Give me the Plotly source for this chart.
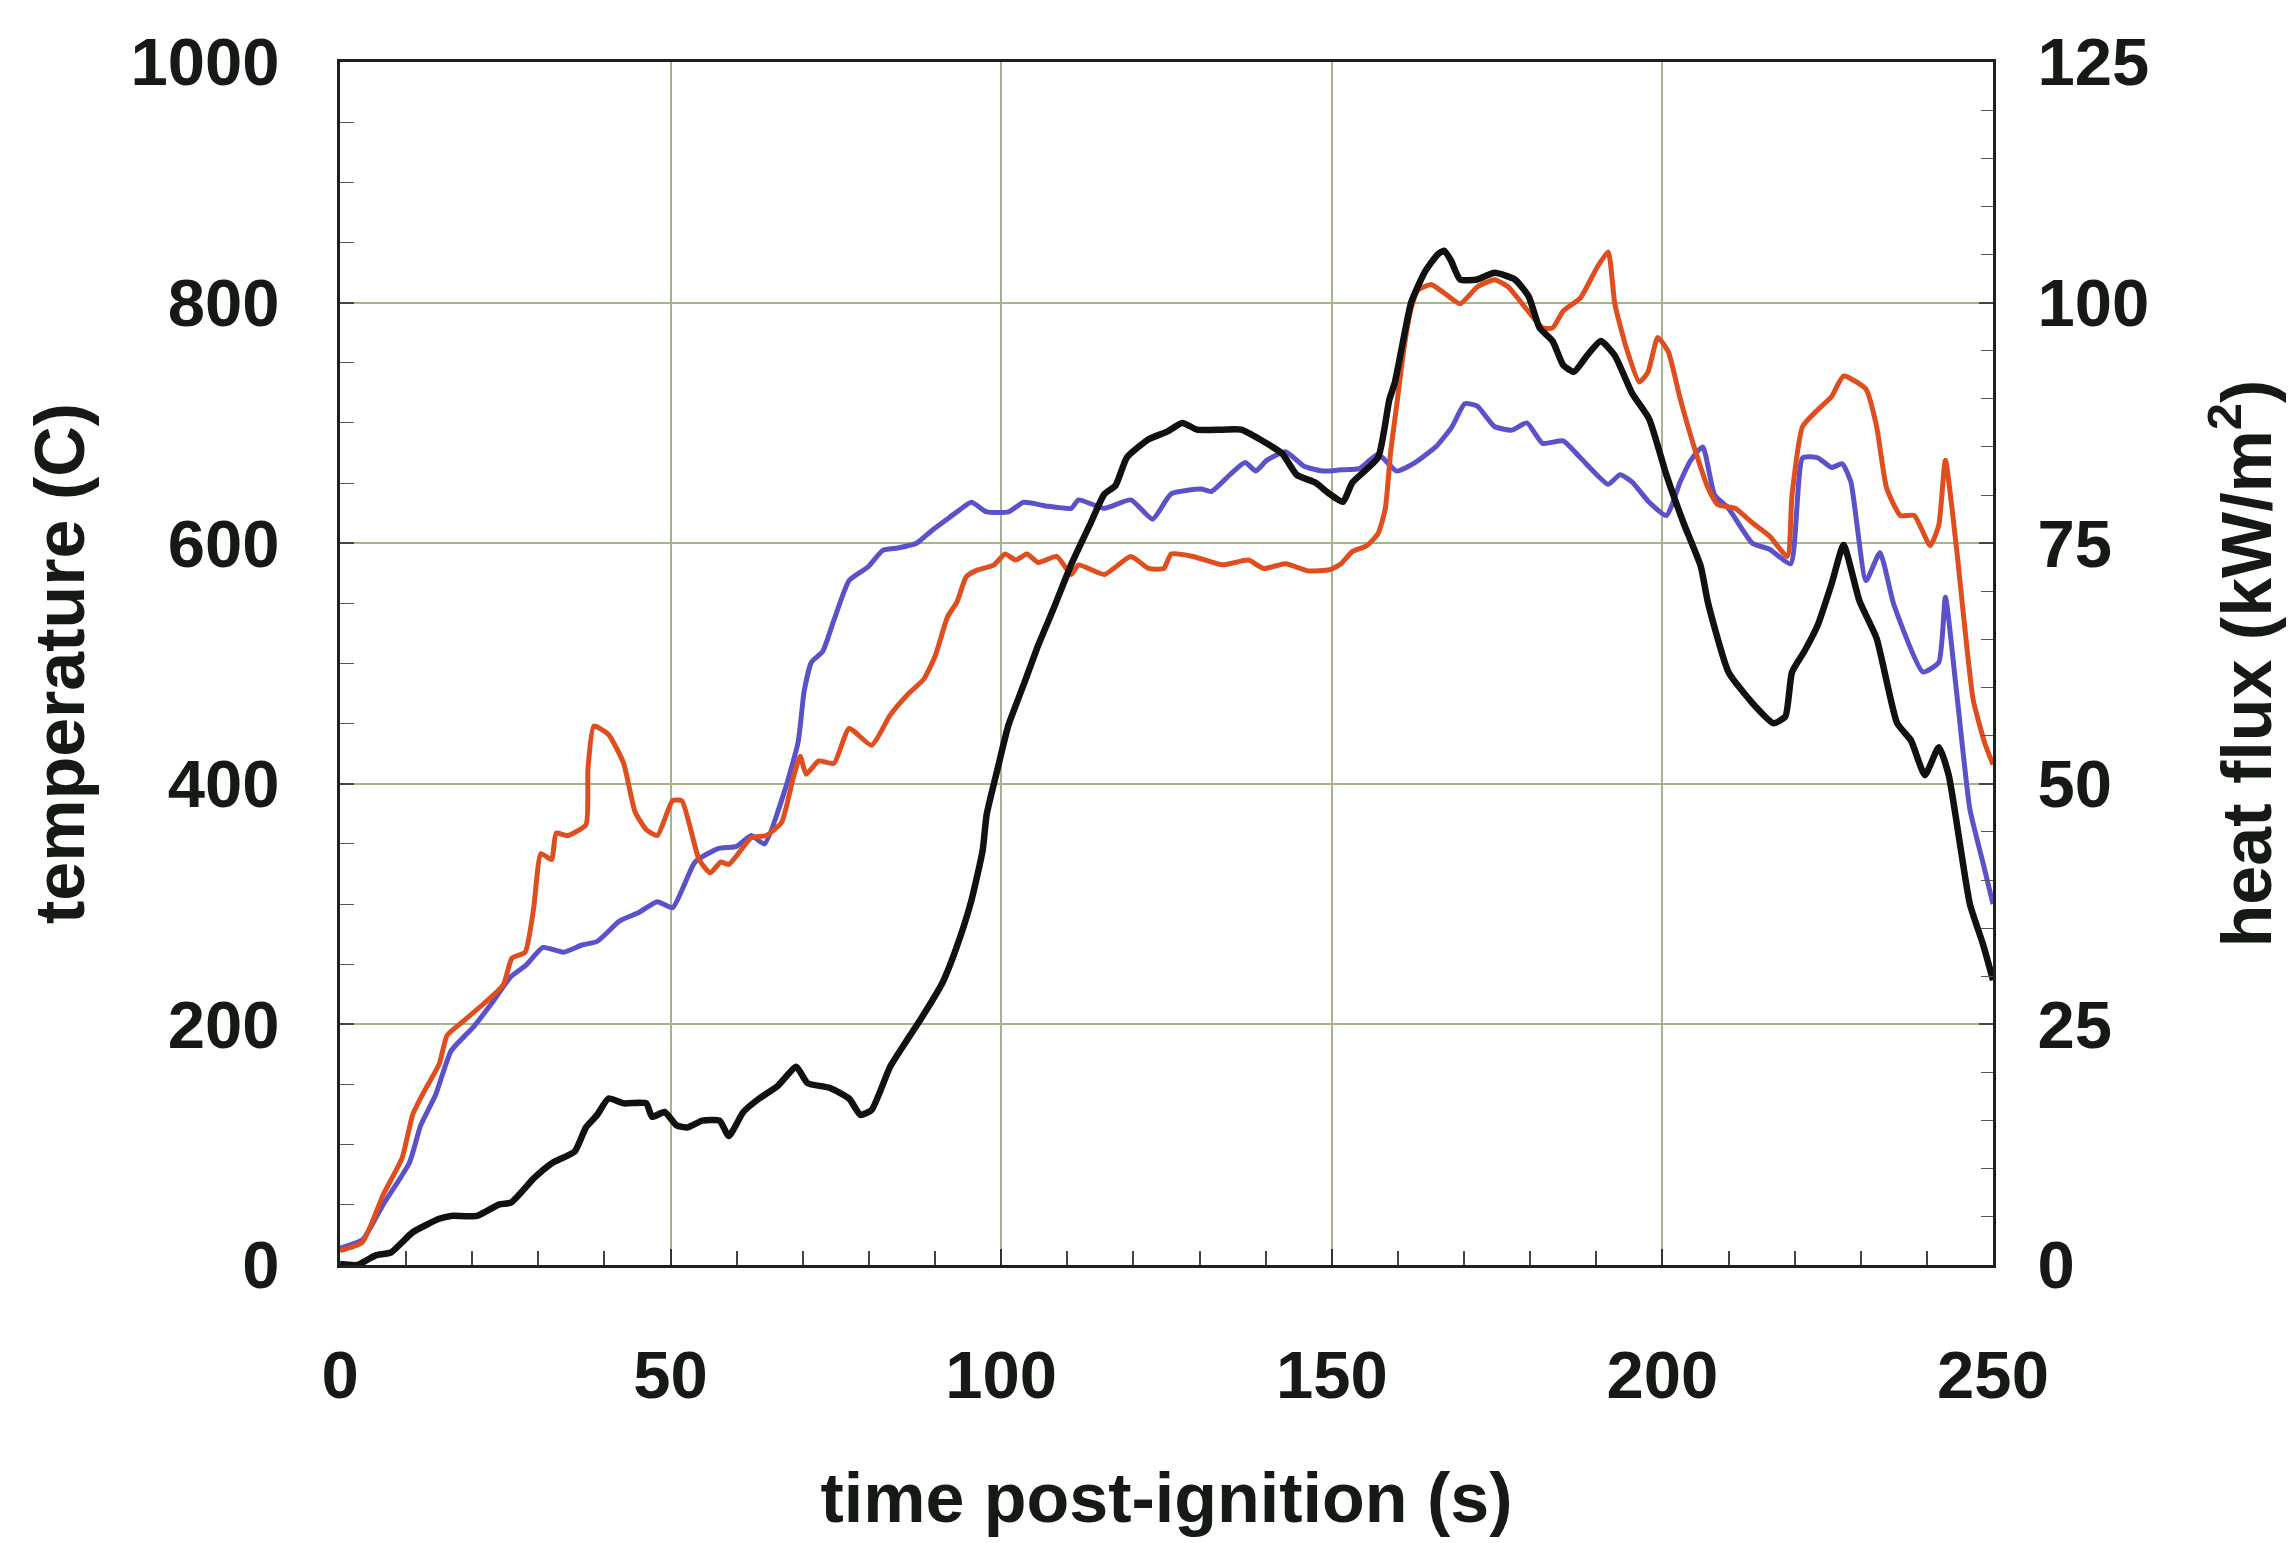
import plotly.graph_objects as go

# ---- data ----
t_orange = [0, 3.4, 6.5, 9.4, 11, 12.8, 15, 16.2, 18.5, 21.9, 24.7, 26, 28, 29.3, 30.4, 32, 32.7, 34.4,
            37.2, 37.5, 38.4, 40.6, 42.9, 44.6, 46.3, 48, 50.3, 51.7, 54.3, 56, 57.6, 58.8, 62.2, 64.5,
            66.8, 68.5, 69.6, 70.5, 72.4, 74.7, 77, 80.4, 83.2, 86, 88.3, 90, 91.9, 93.3, 94.7, 96.1,
            98.9, 100.6, 102.2, 103.9, 105.6, 108.4, 110.6, 111.7, 115.6, 119.6, 122.3, 124.6, 125.7,
            129, 133.5, 137.4, 139.7, 143, 146.4, 149.7, 151.4, 153.1, 155.3, 157, 158.1, 158.9, 159.8,
            161, 162, 163, 165, 167, 169.4, 172, 174.6, 176.7, 178.8, 181.9, 183.4, 185, 187.6, 190.2,
            191.8, 192.8, 194.4, 196.5, 197.8, 199.3, 200.9, 202.7, 204.8, 206.9, 208.4, 211, 213.6,
            216.2, 218.9, 219.6, 221.2, 223.5, 225.6, 227.4, 230.8, 232.4, 233.9, 236, 238.1, 240.5,
            241.8, 242.8, 244.4, 247, 248.8, 250]
temp_orange = [12, 19, 58, 89, 125, 145, 167, 191, 202, 218, 233, 255, 260, 297, 342, 337, 359, 357,
               366, 412, 448, 441, 417, 377, 362, 357, 386, 386, 337, 326, 335, 333, 355, 357,
               368, 404, 423, 408, 419, 417, 446, 432, 457, 475, 487, 506, 539, 551, 572, 577,
               582, 591, 586, 591, 584, 589, 574, 582, 574, 589, 579, 579, 591,
               589, 582, 586, 579, 583, 577, 578, 583, 593, 598, 608, 629, 676, 714,
               765, 795, 810, 815, 808, 799, 813, 819, 813, 799, 779, 779, 793, 804, 830,
               842, 799, 765, 734, 742, 771, 759, 720, 680, 646, 632, 629, 617,
               606, 589, 640, 697, 711, 722, 739, 728, 697, 646, 623, 623, 598,
               615, 669, 600, 470, 433, 416]

t_blue = [0, 3.4, 6.5, 10.5, 12.2, 14.5, 16.8, 20.2, 23, 25.9, 28.1, 30.7, 33.8, 36.6, 38.9, 42.3,
          45.2, 48, 50.3, 53.7, 57.1, 60, 62.2, 64.2, 67.3, 69.3, 70.2, 71.3, 73, 74.7, 77, 79.8,
          82.1, 84.4, 87.2, 89.4, 91.6, 93.3, 95.5, 97.8, 101.1, 103.4, 106.7, 110.6, 111.7, 115.6,
          119.6, 122.9, 125.7, 130.2, 131.8, 134.6, 136.9, 138.5, 140.2, 143, 145.8, 148.6, 151.4,
          154.2, 157, 159.8, 162.6, 165.9, 168.2, 170.1, 172, 174.6, 177.2, 179.5, 181.9, 185,
          187.6, 191.8, 193.6, 195.4, 198, 200.6, 202.7, 204.3, 206.1, 207.9, 210, 213.6, 216.2,
          219.4, 221.2, 223.5, 225.6, 227.2, 228.5, 230.8, 232.9, 235, 239.4, 241.8, 242.8, 244.4,
          246.5, 248.5, 250]
temp_blue = [14, 21, 50, 85, 116, 142, 178, 198, 218, 240, 249, 264, 260, 266, 269, 286,
             293, 302, 297, 335, 346, 348, 357, 350, 395, 435, 477, 501, 510, 536, 569, 580,
             594, 596, 600, 610, 619, 626, 634, 626, 626, 634, 631, 629, 636, 629,
             636, 620, 641, 645, 643, 657, 667, 660, 669, 676, 664, 660, 661,
             662, 674, 660, 667, 681, 697, 716, 714, 697, 694, 700, 683, 685,
             671, 649, 657, 651, 634, 623, 651, 669, 680, 640, 629, 600, 595,
             583, 671, 671, 663, 666, 651, 569, 592, 549, 493, 501, 555, 481,
             379, 334, 300]

t_flux = [0, 2.6, 5.4, 7.7, 11, 15, 16.8, 20.7, 24.1, 25.9, 29.3, 32.1, 35.5, 37.2, 38.9, 40.6,
          42.9, 46.3, 47.2, 49.1, 50.9, 52.6, 54.8, 57.4, 58.8, 61, 63.4, 66.2, 69, 70.7, 74.1, 77,
          78.7, 80.4, 83.2, 85.5, 87.7, 91.1, 93.3, 95.5, 97.2, 97.8, 99.4, 101.1, 103.4, 105.6,
          107.8, 110.6, 113.4, 115.6, 117.3, 119, 122.3, 125.1, 127.4, 129.6, 133.5, 136.3, 139.1,
          142.5, 144.7, 147.5, 149.7, 151.7, 153.1, 157, 158.7, 159.5, 160.5, 162, 164, 166, 167,
          168, 169.4, 172, 174.6, 177.7, 179.8, 181.4, 183.4, 185, 186.6, 188.6, 190.7, 192.8,
          195.4, 198, 200.6, 203.2, 205.8, 206.9, 210, 213.6, 216.8, 218.6, 219.6, 221.5, 223.5,
          225.6, 227.4, 229.8, 232.4, 235.5, 237.6, 239.7, 241.8, 243.3, 246.5, 248.5, 250]
heat_flux = [0.1, 0, 1.0, 1.3, 3.4, 4.8, 5.1, 5.1, 6.3, 6.5, 9.0, 10.6, 11.8, 14.3, 15.6, 17.3,
             16.8, 16.8, 15.4, 15.9, 14.5, 14.3, 15.0, 15.0, 13.4, 15.9, 17.3, 18.6, 20.6, 18.9, 18.4, 17.3,
             15.6, 16.1, 20.6, 23.1, 25.4, 29.3, 33.1, 37.9, 43.1, 46.8, 51.4, 56.1, 60.3, 64.4,
             68.0, 72.8, 76.9, 80.1, 81.0, 83.9, 85.8, 86.6, 87.5, 86.8, 86.8, 86.8, 85.8,
             84.3, 82.1, 81.3, 80.1, 79.3, 81.3, 83.9, 89.9, 91.6, 95.0, 100.0, 103.1, 105.0, 105.4,
             104.4, 102.4, 102.4, 103.1, 102.4, 100.6, 97.4, 96.0, 93.5, 92.8, 94.5, 96.0, 94.5,
             90.6, 87.9, 82.1, 77.1, 72.6, 68.8, 61.6, 58.4, 56.3, 57.0, 61.6, 63.8, 66.5,
             70.8, 74.8, 69.0, 65.1, 56.3, 54.5, 50.9, 53.8, 50.9, 37.5, 33.3, 29.6]

x_ticks = [0, 50, 100, 150, 200, 250]
temp_ticks = [0, 200, 400, 600, 800, 1000]
flux_ticks = [0, 25, 50, 75, 100, 125]

assert len(t_orange) == len(temp_orange)
assert len(t_blue) == len(temp_blue)
assert len(t_flux) == len(heat_flux)

ORANGE = "#df4e1f"
BLUE = "#5b52c9"
BLACK = "#111111"
GRID = "#a3b48f"
AXIS = "#16241a"
TXT = "#151a15"
FONT = "Liberation Sans, Arial, sans-serif"

fig = go.Figure()
fig.add_trace(go.Scatter(x=t_blue, y=temp_blue, mode="lines", name="temperature 2",
                         line=dict(color=BLUE, width=5, shape="spline", smoothing=0.5),
                         showlegend=False))
fig.add_trace(go.Scatter(x=t_orange, y=temp_orange, mode="lines", name="temperature 1",
                         line=dict(color=ORANGE, width=5, shape="spline", smoothing=0.5),
                         showlegend=False))
fig.add_trace(go.Scatter(x=t_flux, y=heat_flux, mode="lines", name="heat flux", yaxis="y2",
                         line=dict(color=BLACK, width=6.5, shape="spline", smoothing=0.5),
                         showlegend=False))

tickfont = dict(family=FONT, size=67, color=TXT, weight="bold")
titlefont = dict(family=FONT, size=70, color=TXT, weight="bold")

fig.update_layout(
    width=2291, height=1543,
    paper_bgcolor="white", plot_bgcolor="white",
    margin=dict(l=340, r=298, t=62, b=278, autoexpand=False),
    xaxis=dict(
        range=[0, 250], tickvals=x_ticks, ticktext=[str(v) for v in x_ticks],
        showgrid=True, gridcolor=GRID, gridwidth=1.5,
        showline=True, linecolor=AXIS, linewidth=3, mirror=True,
        ticks="inside", ticklen=16, tickwidth=1.5, tickcolor="#333",
        minor=dict(dtick=10, tick0=0, ticks="inside", ticklen=14, tickwidth=1.5,
                   tickcolor="#444", showgrid=False),
        tickfont=tickfont, ticklabelstandoff=50,
        title=dict(text="time post-ignition (s)", font=titlefont, standoff=62),
        zeroline=False, automargin=False,
    ),
    yaxis=dict(
        range=[0, 1000], tickvals=temp_ticks, ticktext=[str(v) for v in temp_ticks],
        showgrid=True, gridcolor=GRID, gridwidth=1.5,
        showline=True, linecolor=AXIS, linewidth=3,
        ticks="inside", ticklen=14, tickwidth=1.5, tickcolor="#444",
        minor=dict(dtick=50, tick0=0, ticks="inside", ticklen=14, tickwidth=1.2,
                   tickcolor="#555", showgrid=False),
        tickfont=tickfont, ticklabelstandoff=44,
        title=dict(text="temperature (C)", font=titlefont, standoff=24),
        zeroline=False, automargin=False,
    ),
    yaxis2=dict(
        range=[0, 125], tickvals=flux_ticks, ticktext=[str(v) for v in flux_ticks],
        overlaying="y", side="right", showgrid=False,
        showline=True, linecolor=AXIS, linewidth=3,
        ticks="inside", ticklen=14, tickwidth=1.5, tickcolor="#444",
        minor=dict(dtick=5, tick0=0, ticks="inside", ticklen=12, tickwidth=1.2,
                   tickcolor="#555", showgrid=False),
        tickfont=tickfont, ticklabelstandoff=28,
        title=dict(text="heat flux (kW/m<sup>2</sup>)", font=titlefont, standoff=74),
        zeroline=False, automargin=False,
    ),
)

fig.write_html("out.html")
